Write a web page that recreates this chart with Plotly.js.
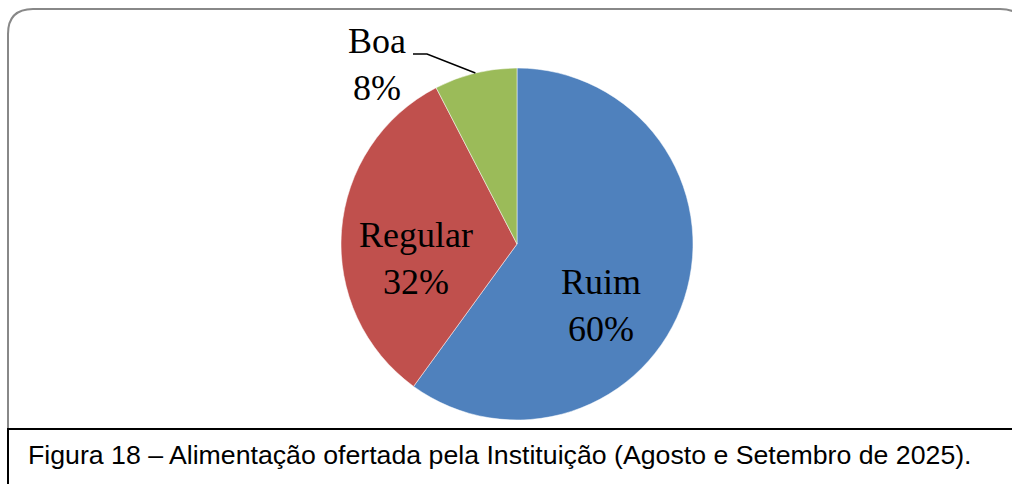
<!DOCTYPE html>
<html>
<head>
<meta charset="utf-8">
<script src="https://cdn.plot.ly/plotly-3.0.1.min.js"></script>
<style>html,body{margin:0;padding:0;background:#fff;}#chart{width:1012px;height:484px;}</style>
</head>
<body>
<div id="chart"></div>
<script>
const categories = ['Ruim', 'Regular', 'Boa'];
const values = [60, 32.4, 7.6];
const colors = ['#4F81BD', '#C0504D', '#9BBB59'];
const captionText = 'Figura 18 – Alimentação ofertada pela Instituição (Agosto e Setembro de 2025).';

const W = 1012, H = 484;
const cx = 517, cy = 244, R = 176;
const px = x => x / W;
const py = y => 1 - y / H;
const P = (x, y) => px(x).toFixed(5) + ',' + py(y).toFixed(5);

const total = values.reduce((a, b) => a + b, 0);
const pct = values.map(v => Math.round(v / total * 100) + '%');
// mid-angle of each slice, clockwise from 12 o'clock
let cum = 0;
const mids = values.map(v => { const m = (cum + v / 2) / total * 2 * Math.PI; cum += v; return m; });
const boaIdx = 2;
const edgeX = cx + R * Math.sin(mids[boaIdx]);
const edgeY = cy - R * Math.cos(mids[boaIdx]);

const trace = {
  type: 'pie',
  labels: categories,
  values: values,
  sort: false,
  direction: 'clockwise',
  rotation: 0,
  marker: { colors: colors, line: { color: '#ffffff', width: 0.5 } },
  textinfo: 'none',
  hoverinfo: 'none',
  showlegend: false,
  domain: { x: [(cx - R) / W, (cx + R) / W], y: [1 - (cy + R) / H, 1 - (cy - R) / H] }
};

// outer rounded frame
const L = 8, T = 9, Rt = 1025, Bt = 470, cr = 25;
const framePath = 'M ' + P(L, Bt) + ' L ' + P(L, T + cr) + ' Q ' + P(L, T) + ' ' + P(L + cr, T) +
  ' L ' + P(Rt - cr, T) + ' Q ' + P(Rt, T) + ' ' + P(Rt, T + cr) + ' L ' + P(Rt, Bt);

const leaderPath = 'M ' + P(413, 54) + ' L ' + P(427, 54) + ' L ' + P(edgeX, edgeY);

const labelFont = { family: 'Liberation Serif, serif', size: 36, color: '#000' };
const labelPos = [[601, 305], [416, 258], [377, 65]];
const labelAnns = categories.map((c, i) => ({
  xref: 'paper', yref: 'paper', x: px(labelPos[i][0]), y: py(labelPos[i][1]),
  xanchor: 'center', yanchor: 'middle', showarrow: false,
  text: c + '<br>' + pct[i], font: labelFont
}));

const layout = {
  width: W, height: H,
  margin: { l: 0, r: 0, t: 0, b: 0 },
  paper_bgcolor: '#fff',
  plot_bgcolor: '#fff',
  shapes: [
    { type: 'path', xref: 'paper', yref: 'paper', path: framePath, line: { color: '#888888', width: 2 } },
    { type: 'path', xref: 'paper', yref: 'paper', path: leaderPath, line: { color: '#000', width: 1.5 } },
    { type: 'rect', xref: 'paper', yref: 'paper', x0: px(8), x1: px(1030), y0: py(500), y1: py(429),
      fillcolor: '#fff', line: { color: '#000', width: 2 } }
  ],
  annotations: labelAnns.concat([
    { xref: 'paper', yref: 'paper', x: px(26), y: py(455), xanchor: 'left', yanchor: 'middle',
      text: captionText, showarrow: false,
      font: { family: 'Liberation Sans, Arial, sans-serif', size: 26.7, color: '#000' } }
  ])
};

Plotly.newPlot('chart', [trace], layout, { displayModeBar: false, staticPlot: true });
</script>
</body>
</html>
